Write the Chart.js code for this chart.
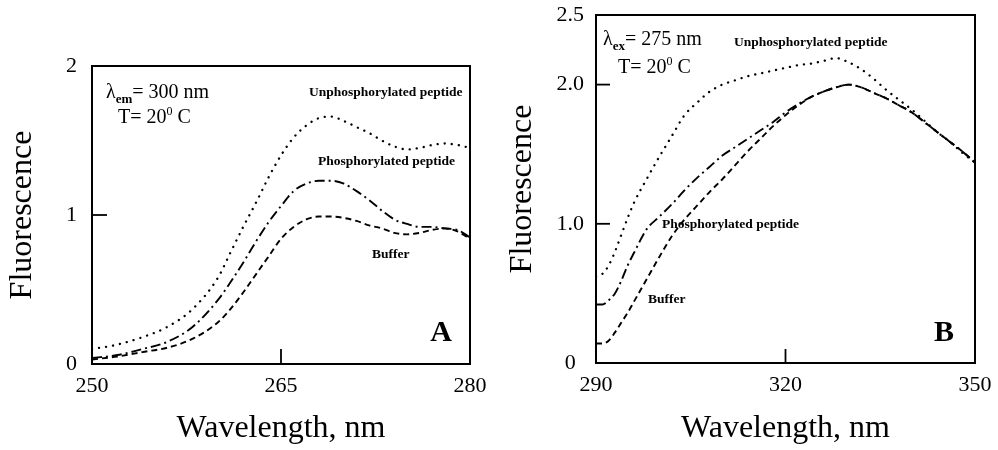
<!DOCTYPE html>
<html><head><meta charset="utf-8">
<script src="https://cdn.jsdelivr.net/npm/chart.js@4.4.0/dist/chart.umd.min.js"></script>
<style>
html,body{margin:0;padding:0;background:#fff;}
#wrap{position:relative;width:998px;height:450px;overflow:hidden;background:#fff;}
.box{position:absolute;top:0;height:450px;}
#boxA{left:0;width:490px;}
#boxB{left:500px;width:498px;}
</style></head><body>
<div id="wrap">
  <div class="box" id="boxA"><canvas id="cA" width="490" height="450"></canvas></div>
  <div class="box" id="boxB"><canvas id="cB" width="498" height="450"></canvas></div>
</div>
<script>
// ---------- Panel A (excitation spectra, λem = 300 nm) ----------
const wavelengthA = [250,252,254,256,258,260,261,262,263,264,265,266,267,268,269,270,271,272,273,274,275,276,277,278,279,280];
const unphosA  = [0.10,0.13,0.18,0.25,0.37,0.58,0.75,0.92,1.08,1.25,1.40,1.52,1.60,1.65,1.66,1.63,1.59,1.55,1.50,1.46,1.44,1.45,1.47,1.48,1.47,1.45];
const phosA    = [0.04,0.06,0.10,0.15,0.25,0.43,0.55,0.68,0.82,0.95,1.06,1.16,1.21,1.23,1.23,1.21,1.16,1.10,1.03,0.97,0.94,0.92,0.92,0.91,0.90,0.85];
const bufferA  = [0.03,0.05,0.08,0.11,0.17,0.28,0.37,0.48,0.60,0.72,0.84,0.92,0.97,0.99,0.99,0.98,0.96,0.93,0.91,0.88,0.87,0.88,0.90,0.91,0.89,0.84];
const xTicksA = [250,265,280];
const yTicksA = [0,1,2];
const yTickLabelsA = ['0','1','2'];

// ---------- Panel B (emission spectra, λex = 275 nm) ----------
const wavelengthB = [290,291,292,293,294,295,296,298,300,302,304,306,308,310,312,314,316,318,320,322,324,326,328,330,332,334,336,338,340,342,344,346,348,350];
const unphosB  = [0.62,0.64,0.70,0.80,0.92,1.04,1.15,1.32,1.48,1.63,1.78,1.87,1.95,2.00,2.03,2.06,2.08,2.10,2.12,2.14,2.15,2.17,2.19,2.16,2.11,2.04,1.96,1.89,1.82,1.74,1.66,1.59,1.51,1.44];
const phosB    = [0.42,0.42,0.45,0.50,0.59,0.70,0.79,0.96,1.05,1.14,1.24,1.33,1.41,1.49,1.55,1.61,1.67,1.73,1.80,1.86,1.91,1.95,1.98,2.00,1.98,1.94,1.90,1.85,1.80,1.73,1.66,1.59,1.52,1.44];
const bufferB  = [0.14,0.14,0.16,0.22,0.29,0.36,0.44,0.60,0.76,0.91,1.03,1.13,1.23,1.32,1.42,1.52,1.61,1.70,1.78,1.85,1.91,1.95,1.98,2.00,1.98,1.94,1.90,1.85,1.80,1.73,1.66,1.59,1.52,1.44];
const xTicksB = [290,320,350];
const yTicksB = [0,1,2,2.5];
const yTickLabelsB = ['0','1.0','2.0','2.5'];

const seriesNames = ['Unphosphorylated peptide','Phosphorylated peptide','Buffer'];
const xTitle = 'Wavelength, nm';
const yTitle = 'Fluorescence';

const SERIF = "'Liberation Serif','Times New Roman',serif";

function pts(xs, ys){ return xs.map((x,i)=>({x:x, y:ys[i]})); }

function ds(label, xs, ys, dash, width, cap){
  return {label:label, data:pts(xs,ys), borderColor:'#000', borderWidth:width, borderDash:dash,
          borderCapStyle:cap, pointRadius:0, fill:false, tension:0.4, cubicInterpolationMode:'monotone'};
}

function drawLambda(ctx, x, y, sub, rest){
  ctx.font = "20px " + SERIF; ctx.textAlign='left'; ctx.textBaseline='alphabetic';
  ctx.fillText('\u03bb', x, y);
  let w = ctx.measureText('\u03bb').width;
  ctx.font = "bold 13px " + SERIF;
  ctx.fillText(sub, x + w, y + 5);
  let w2 = ctx.measureText(sub).width;
  ctx.font = "20px " + SERIF;
  ctx.fillText(rest, x + w + w2, y);
}
function drawTemp(ctx, x, y, pre){
  ctx.font = "20px " + SERIF; ctx.textAlign='left'; ctx.textBaseline='alphabetic';
  ctx.fillText(pre + '20', x, y);
  let w = ctx.measureText(pre + '20').width;
  ctx.font = "12px " + SERIF;
  ctx.fillText('0', x + w, y - 8);
  let w2 = ctx.measureText('0').width;
  ctx.font = "20px " + SERIF;
  ctx.fillText(' C', x + w + w2, y);
}

function overlay(cfg){
  return {
    id:'overlay',
    afterDraw(chart){
      const ctx = chart.ctx, a = chart.chartArea;
      ctx.save();
      ctx.strokeStyle = '#000'; ctx.fillStyle = '#000';
      ctx.lineWidth = 2;
      ctx.strokeRect(a.left, a.top, a.right - a.left, a.bottom - a.top);
      ctx.lineWidth = 1.8;
      cfg.innerY.forEach(v=>{
        const y = chart.scales.y.getPixelForValue(v);
        ctx.beginPath(); ctx.moveTo(a.left, y); ctx.lineTo(a.left + cfg.tickLen, y); ctx.stroke();
      });
      cfg.innerX.forEach(v=>{
        const x = chart.scales.x.getPixelForValue(v);
        ctx.beginPath(); ctx.moveTo(x, a.bottom); ctx.lineTo(x, a.bottom - cfg.tickLen); ctx.stroke();
      });
      drawLambda(ctx, cfg.lam.x, cfg.lam.y, cfg.lam.sub, cfg.lam.rest);
      drawTemp(ctx, cfg.temp.x, cfg.temp.y, cfg.temp.pre);
      ctx.font = "bold 13.5px " + SERIF; ctx.textAlign='left'; ctx.textBaseline='middle';
      cfg.labels.forEach(l=>{ ctx.fillText(l.t, l.x, l.y); });
      ctx.font = "bold 30px " + SERIF; ctx.textAlign='center'; ctx.textBaseline='middle';
      ctx.fillText(cfg.panel.t, cfg.panel.x, cfg.panel.y);
      ctx.restore();
    }
  };
}

function makeChart(id, o){
  return new Chart(document.getElementById(id), {
    type:'line',
    data:{ datasets:[
      ds(seriesNames[0], o.xs, o.un, [0.1, 7], 2.3, 'round'),
      ds(seriesNames[1], o.xs, o.ph, [10, 4, 2, 4], 1.9, 'butt'),
      ds(seriesNames[2], o.xs, o.bu, [6, 4], 1.9, 'butt')
    ]},
    options:{
      responsive:false, animation:false, devicePixelRatio:1,
      layout:{padding:o.pad},
      plugins:{legend:{display:false}, tooltip:{enabled:false}},
      scales:{
        x:{type:'linear', min:o.xmin, max:o.xmax,
           afterBuildTicks:s=>{ s.ticks = o.xticks.map(v=>({value:v})); },
           ticks:{color:'#000', font:{family:SERIF, size:22}, padding:9, maxRotation:0, autoSkip:false,
                  callback:v=>String(v)},
           grid:{display:false, drawTicks:false}, border:{display:false},
           title:{display:true, text:xTitle, color:'#000', font:{family:SERIF, size:32, lineHeight:1.2}, padding:{top:0,bottom:2}},
           afterFit:s=>{ s.height = o.xh; s.paddingLeft = 0; s.paddingRight = 0; }
        },
        y:{type:'linear', min:o.ymin, max:o.ymax,
           afterBuildTicks:s=>{ s.ticks = o.yticks.map(v=>({value:v})); },
           ticks:{color:'#000', font:{family:SERIF, size:22}, padding:o.ypad, crossAlign:'center',
                  callback:(v)=>o.ylabels[o.yticks.indexOf(v)]},
           grid:{display:false, drawTicks:false}, border:{display:false},
           title:{display:true, text:yTitle, color:'#000', font:{family:SERIF, size:32, lineHeight:1.2}, padding:{top:3,bottom:0}},
           afterFit:s=>{ s.width = o.yw; s.paddingTop = 0; s.paddingBottom = 0; }
        }
      }
    },
    plugins:[overlay(o.ov)]
  });
}

makeChart('cA', {
  xs:wavelengthA, un:unphosA, ph:phosA, bu:bufferA,
  xmin:250, xmax:280, ymin:0, ymax:2, xticks:xTicksA, yticks:yTicksA, ylabels:yTickLabelsA,
  pad:{left:0, right:20, top:66, bottom:0}, xh:86, yw:92, ypad:15,
  ov:{innerY:[1], innerX:[265], tickLen:15,
      lam:{x:106, y:98, sub:'em', rest:'= 300 nm'},
      temp:{x:118, y:123, pre:'T= '},
      labels:[{t:seriesNames[0], x:309, y:93},{t:seriesNames[1], x:318, y:162},{t:seriesNames[2], x:372, y:255}],
      panel:{t:'A', x:441, y:333}}
});

makeChart('cB', {
  xs:wavelengthB, un:unphosB, ph:phosB, bu:bufferB,
  xmin:290, xmax:350, ymin:0, ymax:2.5, xticks:xTicksB, yticks:yTicksB, ylabels:yTickLabelsB,
  pad:{left:0, right:23, top:15, bottom:0}, xh:87, yw:96, ypad:12,
  ov:{innerY:[1,2], innerX:[320], tickLen:14,
      lam:{x:103, y:45, sub:'ex', rest:'= 275 nm'},
      temp:{x:118, y:73, pre:'T= '},
      labels:[{t:seriesNames[0], x:234, y:43},{t:seriesNames[1], x:162, y:225},{t:seriesNames[2], x:148, y:300}],
      panel:{t:'B', x:444, y:333}}
});
</script>
</body></html>
